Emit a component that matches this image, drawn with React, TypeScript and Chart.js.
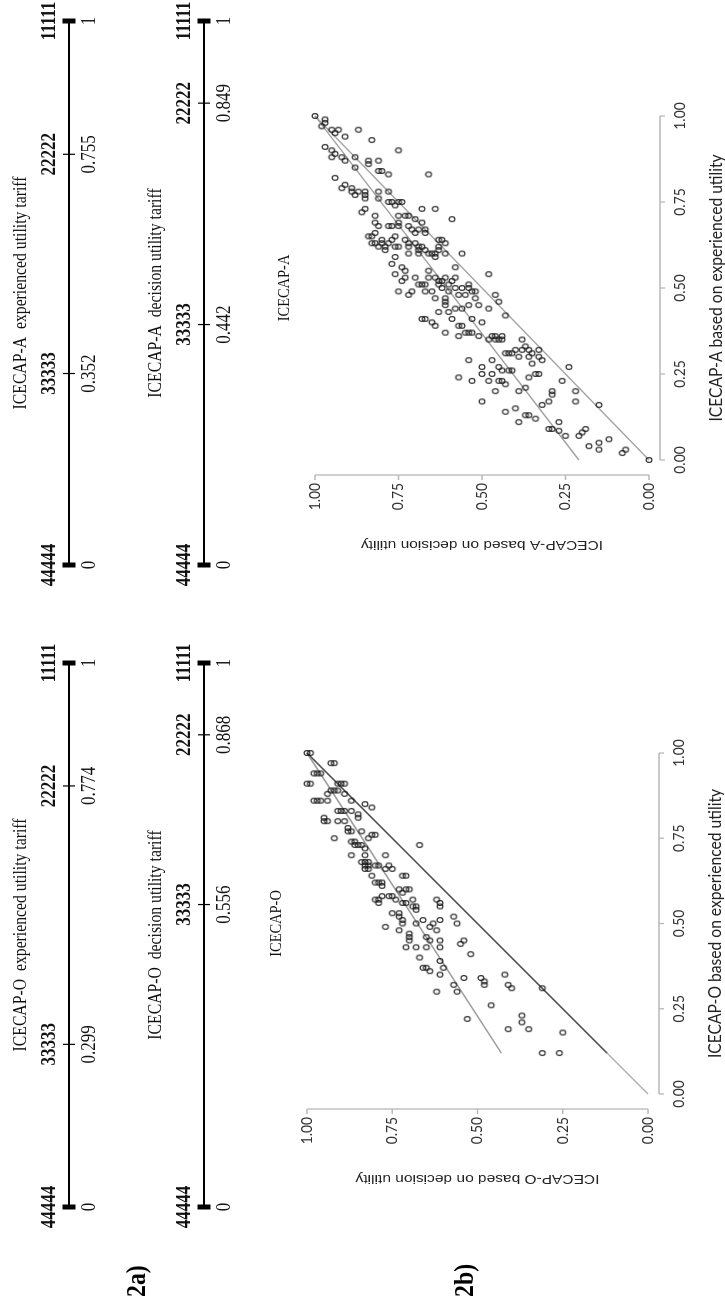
import React, { useEffect, useRef } from 'react';
import { Chart, registerables } from 'chart.js';

Chart.register(...registerables);

// The figure is laid out in its upright frame (1306 x 725) and turned a quarter
// turn counter-clockwise onto the 725 x 1306 page.
const FIG_W = 1306;
const FIG_H = 725;

// ---- 2a) tariff scales ----
const stateLabels = ['44444', '33333', '22222', '11111'];
const oExperiencedTariff = [0, 0.299, 0.774, 1];
const oDecisionTariff = [0, 0.556, 0.868, 1];
const aExperiencedTariff = [0, 0.352, 0.755, 1];
const aDecisionTariff = [0, 0.442, 0.849, 1];

// ---- 2b) scatter plots ----
const scatterTicks = [0, 0.25, 0.5, 0.75, 1];
const identityLine = [0, 1];
const aFitExperienced = [0, 1];
const aFitDecision = [0.21, 1.0];
const oFitExperienced = [0.12, 1];
const oFitDecision = [0.43, 1.0];
const oIdentityDarkRange = [0.12, 1];

const aExperienced = [
  1.00, 0.99, 0.98, 0.97, 0.96, 0.96, 0.95, 0.94, 0.96, 0.93,
  0.90, 0.91, 0.90, 0.88, 0.89, 0.88, 0.87, 0.88, 0.85, 0.87,
  0.86, 0.87, 0.84, 0.84, 0.83, 0.83, 0.82, 0.80, 0.79, 0.78,
  0.77, 0.79, 0.78, 0.78, 0.77, 0.76, 0.78, 0.76, 0.78, 0.75,
  0.75, 0.74, 0.75, 0.75, 0.73, 0.73, 0.72, 0.73, 0.71, 0.69,
  0.68, 0.71, 0.69, 0.71, 0.71, 0.70, 0.69, 0.70, 0.68, 0.68,
  0.68, 0.68, 0.67, 0.66, 0.67, 0.66, 0.67, 0.65, 0.65, 0.66,
  0.64, 0.63, 0.63, 0.62, 0.63, 0.62, 0.61, 0.63, 0.62, 0.62,
  0.64, 0.65, 0.64, 0.63, 0.62, 0.63, 0.61, 0.62, 0.60, 0.62,
  0.61, 0.60, 0.60, 0.59, 0.60, 0.61, 0.62, 0.64, 0.63, 0.60,
  0.64, 0.60, 0.57, 0.54, 0.59, 0.56, 0.53, 0.55, 0.52, 0.49,
  0.48, 0.49, 0.53, 0.51, 0.51, 0.51, 0.49, 0.55, 0.53, 0.49,
  0.53, 0.52, 0.51, 0.50, 0.47, 0.52, 0.53, 0.51, 0.49, 0.52,
  0.53, 0.56, 0.50, 0.48, 0.60, 0.50, 0.48, 0.50, 0.51, 0.49,
  0.49, 0.47, 0.45, 0.54, 0.48, 0.46, 0.47, 0.43, 0.46, 0.45,
  0.43, 0.41, 0.44, 0.44, 0.45, 0.41, 0.40, 0.44, 0.42, 0.41,
  0.41, 0.40, 0.39, 0.37, 0.39, 0.36, 0.39, 0.37, 0.37, 0.37,
  0.36, 0.35, 0.36, 0.35, 0.36, 0.35, 0.36, 0.35, 0.31, 0.31,
  0.31, 0.32, 0.30, 0.35, 0.32, 0.33, 0.32, 0.30, 0.31, 0.32,
  0.30, 0.29, 0.28, 0.25, 0.24, 0.25, 0.27, 0.23, 0.29, 0.27,
  0.29, 0.27, 0.26, 0.26, 0.26, 0.25, 0.23, 0.23, 0.22, 0.20,
  0.24, 0.23, 0.25, 0.23, 0.20, 0.21, 0.20, 0.19, 0.17, 0.20,
  0.17, 0.16, 0.16, 0.17, 0.14, 0.15, 0.11, 0.13, 0.13, 0.12,
  0.09, 0.09, 0.11, 0.085, 0.07, 0.07, 0.08, 0.09, 0.04, 0.05,
  0.03, 0.06, 0.03, 0.02, 0.00,
];
const aDecision = [
  1.00, 0.97, 0.97, 0.98, 0.95, 0.93, 0.94, 0.91, 0.87, 0.83,
  0.75, 0.97, 0.95, 0.95, 0.94, 0.92, 0.91, 0.88, 0.88, 0.84,
  0.84, 0.81, 0.81, 0.80, 0.78, 0.66, 0.94, 0.91, 0.92, 0.89,
  0.88, 0.89, 0.87, 0.85, 0.85, 0.85, 0.81, 0.81, 0.78, 0.77,
  0.78, 0.76, 0.75, 0.74, 0.68, 0.64, 0.86, 0.85, 0.82, 0.82,
  0.81, 0.75, 0.75, 0.73, 0.72, 0.70, 0.68, 0.59, 0.78, 0.77,
  0.75, 0.72, 0.71, 0.70, 0.69, 0.67, 0.67, 0.84, 0.83, 0.82,
  0.80, 0.82, 0.80, 0.79, 0.83, 0.81, 0.79, 0.78, 0.76, 0.75,
  0.77, 0.76, 0.73, 0.72, 0.72, 0.70, 0.69, 0.69, 0.69, 0.68,
  0.67, 0.66, 0.65, 0.64, 0.64, 0.63, 0.63, 0.62, 0.61, 0.61,
  0.63, 0.72, 0.77, 0.76, 0.76, 0.74, 0.73, 0.73, 0.74, 0.75,
  0.72, 0.71, 0.70, 0.69, 0.68, 0.67, 0.67, 0.66, 0.66, 0.65,
  0.64, 0.63, 0.63, 0.62, 0.61, 0.62, 0.61, 0.60, 0.60, 0.59,
  0.58, 0.58, 0.58, 0.57, 0.56, 0.56, 0.55, 0.54, 0.54, 0.53,
  0.52, 0.52, 0.51, 0.48, 0.46, 0.45, 0.64, 0.63, 0.61, 0.61,
  0.60, 0.59, 0.58, 0.56, 0.54, 0.53, 0.50, 0.48, 0.43, 0.68,
  0.67, 0.65, 0.64, 0.61, 0.57, 0.57, 0.56, 0.55, 0.54, 0.53,
  0.51, 0.48, 0.47, 0.46, 0.46, 0.45, 0.44, 0.44, 0.43, 0.42,
  0.41, 0.40, 0.39, 0.38, 0.38, 0.37, 0.36, 0.36, 0.35, 0.33,
  0.33, 0.32, 0.35, 0.34, 0.36, 0.33, 0.24, 0.26, 0.54, 0.50,
  0.47, 0.45, 0.44, 0.42, 0.41, 0.47, 0.45, 0.44, 0.43, 0.46,
  0.57, 0.53, 0.50, 0.48, 0.39, 0.37, 0.29, 0.29, 0.30, 0.22,
  0.22, 0.15, 0.32, 0.50, 0.43, 0.40, 0.39, 0.37, 0.36, 0.34,
  0.30, 0.29, 0.27, 0.27, 0.25, 0.21, 0.20, 0.19, 0.18, 0.15,
  0.15, 0.12, 0.07, 0.08, 0.00,
];

const oExperienced = [
  1.00, 1.00, 0.97, 0.97, 0.94, 0.94, 0.94, 0.91, 0.91, 0.91,
  0.91, 0.91, 0.89, 0.89, 0.88, 0.89, 0.88, 0.86, 0.86, 0.86,
  0.86, 0.86, 0.85, 0.84, 0.83, 0.83, 0.83, 0.83, 0.82, 0.81,
  0.81, 0.80, 0.80, 0.80, 0.80, 0.78, 0.77, 0.77, 0.77, 0.75,
  0.75, 0.76, 0.76, 0.74, 0.73, 0.73, 0.73, 0.74, 0.73, 0.72,
  0.70, 0.70, 0.68, 0.68, 0.67, 0.67, 0.68, 0.67, 0.67, 0.70,
  0.66, 0.66, 0.66, 0.67, 0.66, 0.64, 0.62, 0.62, 0.62, 0.56,
  0.61, 0.64, 0.64, 0.60, 0.59, 0.60, 0.60, 0.57, 0.57, 0.58,
  0.58, 0.58, 0.57, 0.56, 0.56, 0.57, 0.55, 0.54, 0.55, 0.57,
  0.56, 0.55, 0.53, 0.53, 0.52, 0.51, 0.50, 0.50, 0.51, 0.48,
  0.49, 0.49, 0.50, 0.48, 0.51, 0.52, 0.50, 0.47, 0.46, 0.43,
  0.43, 0.45, 0.46, 0.43, 0.45, 0.45, 0.43, 0.44, 0.45, 0.41,
  0.40, 0.37, 0.37, 0.36, 0.35, 0.39, 0.37, 0.34, 0.34, 0.33,
  0.32, 0.35, 0.32, 0.31, 0.30, 0.32, 0.30, 0.26, 0.23, 0.21,
  0.19, 0.19, 0.22, 0.31, 0.18, 0.12, 0.12,
];
const oDecision = [
  1.00, 0.99, 0.93, 0.92, 0.98, 0.97, 0.96, 1.00, 0.99, 0.91,
  0.90, 0.89, 0.92, 0.93, 0.94, 0.91, 0.89, 0.87, 0.94, 0.98,
  0.97, 0.96, 0.83, 0.81, 0.91, 0.90, 0.89, 0.87, 0.85, 0.85,
  0.95, 0.95, 0.94, 0.91, 0.89, 0.88, 0.88, 0.87, 0.84, 0.92,
  0.82, 0.81, 0.80, 0.87, 0.86, 0.85, 0.84, 0.86, 0.67, 0.83,
  0.83, 0.87, 0.84, 0.83, 0.83, 0.82, 0.82, 0.80, 0.79, 0.77,
  0.83, 0.82, 0.77, 0.76, 0.75, 0.81, 0.80, 0.79, 0.78, 0.79,
  0.78, 0.72, 0.71, 0.73, 0.72, 0.71, 0.70, 0.80, 0.79, 0.78,
  0.76, 0.75, 0.74, 0.72, 0.71, 0.69, 0.68, 0.68, 0.69, 0.62,
  0.61, 0.61, 0.75, 0.73, 0.73, 0.72, 0.72, 0.68, 0.66, 0.73,
  0.77, 0.64, 0.63, 0.62, 0.61, 0.57, 0.56, 0.70, 0.70, 0.71,
  0.68, 0.70, 0.65, 0.65, 0.64, 0.61, 0.61, 0.55, 0.54, 0.52,
  0.67, 0.66, 0.65, 0.64, 0.61, 0.61, 0.60, 0.54, 0.49, 0.48,
  0.48, 0.42, 0.41, 0.40, 0.62, 0.57, 0.56, 0.46, 0.37, 0.37,
  0.35, 0.41, 0.53, 0.31, 0.25, 0.31, 0.26,
];

const SERIF = '"Liberation Serif", "Times New Roman", serif';
const SANS = '"Liberation Sans", Arial, sans-serif';
const CAL = 'Lato, "Open Sans", sans-serif';
const SQUISH = 0.85; // the source figure is narrower along its reading direction

const fmtTariff = (v: number) => (v === 0 || v === 1 ? String(v) : v.toFixed(3));

function squishText(ctx: CanvasRenderingContext2D, text: string, x: number, y: number, font: string, sx: number) {
  ctx.save();
  ctx.translate(x, y);
  ctx.scale(sx, 1);
  ctx.font = font;
  ctx.fillText(text, 0, 0);
  ctx.restore();
}

function makeRing(): HTMLCanvasElement {
  const c = document.createElement('canvas');
  c.width = 10;
  c.height = 10;
  const g = c.getContext('2d');
  if (g) {
    g.strokeStyle = 'rgba(25,25,25,0.9)';
    g.lineWidth = 1.2;
    g.beginPath();
    g.ellipse(5, 5, 2.4, 2.9, 0, 0, Math.PI * 2);
    g.stroke();
  }
  return c;
}

type TariffProps = { x0: number; length: number; lineY: number; values: number[]; title: string };

function TariffScale({ x0, length, lineY, values, title }: TariffProps) {
  const ref = useRef<HTMLCanvasElement | null>(null);
  const padL = 60;
  const padR = 60;
  const W = length + padL + padR;
  const H = 112;
  const lineInCanvas = 70;
  useEffect(() => {
    const canvas = ref.current;
    if (!canvas) return;
    const textPlugin = {
      id: 'tariffText',
      afterDatasetsDraw(chart: any) {
        const { ctx, scales } = chart;
        const xs = scales.x;
        const y0 = scales.y.getPixelForValue(0);
        ctx.save();
        ctx.fillStyle = '#111';
        ctx.textAlign = 'center';
        ctx.textBaseline = 'middle';
        squishText(ctx, title, xs.getPixelForValue(0.5), y0 - 48, `18.5px ${SERIF}`, SQUISH);
        values.forEach((v, i) => {
          const px = xs.getPixelForValue(v);
          squishText(ctx, stateLabels[i], px, y0 - 19, `bold 20px ${SERIF}`, SQUISH);
          squishText(ctx, fmtTariff(v), px, y0 + 21, `20px ${SERIF}`, SQUISH);
        });
        ctx.restore();
      },
    };
    const ends = [values[0], values[values.length - 1]];
    const inner = values.slice(1, -1);
    const chart = new Chart(canvas, {
      type: 'scatter',
      data: {
        datasets: [
          {
            data: ends.map((v) => ({ x: v, y: 0 })),
            pointStyle: 'line',
            pointRotation: 90,
            pointRadius: 6.5,
            pointBorderWidth: 5,
            pointBorderColor: '#000',
            clip: false,
          } as any,
          {
            data: inner.map((v) => ({ x: v, y: 0 })),
            pointStyle: 'line',
            pointRotation: 90,
            pointRadius: 6,
            pointBorderWidth: 1.2,
            pointBorderColor: '#000',
            clip: false,
          } as any,
          {
            type: 'line',
            data: ends.map((v) => ({ x: v, y: 0 })),
            borderColor: '#000',
            borderWidth: 2,
            pointRadius: 0,
            clip: false,
          } as any,
        ],
      },
      options: {
        responsive: false,
        animation: false,
        events: [],
        layout: { padding: { left: padL, right: padR, top: lineInCanvas - 30, bottom: H - lineInCanvas - 30 } },
        scales: {
          x: { type: 'linear', min: 0, max: 1, display: false },
          y: { type: 'linear', min: -1, max: 1, display: false },
        },
        plugins: { legend: { display: false }, tooltip: { enabled: false } },
      },
      plugins: [textPlugin],
    });
    return () => chart.destroy();
  }, []);
  return (
    <canvas
      ref={ref}
      width={W}
      height={H}
      style={{ position: 'absolute', left: x0 - padL, top: lineY - lineInCanvas, width: W, height: H }}
    />
  );
}

type ScatterProps = {
  areaLeft: number;
  areaRight: number;
  areaTop: number;
  areaBottom: number;
  xs: number[];
  ys: number[];
  fitX: number[];
  fitY: number[];
  identityColor: string;
  darkRange?: number[];
  fitColor: string;
  title: string;
  xTitle: string;
  yTitle: string;
};

function ScatterPanel(p: ScatterProps) {
  const ref = useRef<HTMLCanvasElement | null>(null);
  const padL = 125;
  const padR = 40;
  const padT = 60;
  const W = p.areaRight - p.areaLeft + padL + padR;
  const top = p.areaTop - padT;
  const H = FIG_H - top;
  const padB = H - padT - (p.areaBottom - p.areaTop);
  useEffect(() => {
    const canvas = ref.current;
    if (!canvas) return;
    const axesPlugin = {
      id: 'rAxes',
      beforeDatasetsDraw(chart: any) {
        const { ctx, scales } = chart;
        const x = scales.x;
        const y = scales.y;
        const x0 = x.getPixelForValue(0);
        const x1 = x.getPixelForValue(1);
        const y0 = y.getPixelForValue(0);
        const y1 = y.getPixelForValue(1);
        const axY = y0 + 11;
        const axX = x0 - 15;
        ctx.save();
        ctx.strokeStyle = '#b8b8b8';
        ctx.lineWidth = 1.3;
        ctx.beginPath();
        ctx.moveTo(x0, axY);
        ctx.lineTo(x1, axY);
        scatterTicks.forEach((t) => {
          const px = x.getPixelForValue(t);
          ctx.moveTo(px, axY);
          ctx.lineTo(px, axY + 5);
        });
        ctx.moveTo(axX, y0);
        ctx.lineTo(axX, y1);
        scatterTicks.forEach((t) => {
          const py = y.getPixelForValue(t);
          ctx.moveTo(axX, py);
          ctx.lineTo(axX - 5, py);
        });
        ctx.stroke();
        ctx.fillStyle = '#333';
        ctx.textAlign = 'center';
        ctx.textBaseline = 'middle';
        scatterTicks.forEach((t) => squishText(ctx, t.toFixed(2), x.getPixelForValue(t), axY + 20, `15px ${CAL}`, 0.92));
        ctx.textAlign = 'right';
        scatterTicks.forEach((t) => squishText(ctx, t.toFixed(2), axX - 8, y.getPixelForValue(t), `15px ${CAL}`, 0.92));
        ctx.textAlign = 'center';
        ctx.fillStyle = '#222';
        squishText(ctx, p.xTitle, (x0 + x1) / 2, y0 + 68, `17px ${CAL}`, 0.92);
        ctx.save();
        ctx.translate(x0 - 85, (y0 + y1) / 2);
        ctx.scale(SQUISH, 1);
        ctx.rotate(-Math.PI / 2);
        ctx.font = `15.5px ${SANS}`;
        ctx.fillText(p.yTitle, 0, 0);
        ctx.restore();
        ctx.fillStyle = '#111';
        squishText(ctx, p.title, x.getPixelForValue(0.5), y1 - 30, `17px ${SERIF}`, SQUISH);
        ctx.restore();
      },
    };
    const ring = makeRing();
    const lineSets: any[] = [
      {
        type: 'line',
        data: identityLine.map((v) => ({ x: v, y: v })),
        borderColor: p.identityColor,
        borderWidth: 1.4,
        pointRadius: 0,
        clip: false,
      },
      {
        type: 'line',
        data: p.fitX.map((v, i) => ({ x: v, y: p.fitY[i] })),
        borderColor: p.fitColor,
        borderWidth: 1.5,
        pointRadius: 0,
        clip: false,
      },
    ];
    if (p.darkRange) {
      lineSets.unshift({
        type: 'line',
        data: p.darkRange.map((v) => ({ x: v, y: v })),
        borderColor: '#505050',
        borderWidth: 1.4,
        pointRadius: 0,
        clip: false,
      });
    }
    const chart = new Chart(canvas, {
      type: 'scatter',
      data: {
        datasets: [
          {
            data: p.xs.map((e, i) => ({ x: e, y: p.ys[i] })),
            pointStyle: ring,
            pointRadius: 3,
            clip: false,
          } as any,
          ...lineSets,
        ],
      },
      options: {
        responsive: false,
        animation: false,
        events: [],
        layout: { padding: { left: padL, right: padR, top: padT, bottom: padB } },
        scales: {
          x: { type: 'linear', min: 0, max: 1, display: false },
          y: { type: 'linear', min: 0, max: 1, display: false },
        },
        plugins: { legend: { display: false }, tooltip: { enabled: false } },
      },
      plugins: [axesPlugin],
    });
    return () => chart.destroy();
  }, []);
  return (
    <canvas
      ref={ref}
      width={W}
      height={H}
      style={{ position: 'absolute', left: p.areaLeft - padL, top, width: W, height: H }}
    />
  );
}

const panelLabel: React.CSSProperties = {
  position: 'absolute',
  left: 9,
  font: `bold 28px ${SERIF}`,
  color: '#000',
  lineHeight: '30px',
  whiteSpace: 'nowrap',
  transformOrigin: '0 50%',
  transform: `scaleX(${SQUISH})`,
};

export default function App() {
  return (
    <div style={{ position: 'fixed', left: 0, top: 0, width: 725, height: 1306, overflow: 'hidden', background: '#fff' }}>
      <div
        style={{
          position: 'absolute',
          left: 0,
          top: 0,
          width: FIG_W,
          height: FIG_H,
          background: '#fff',
          transformOrigin: '0 0',
          transform: `translate(0px, ${FIG_W}px) rotate(-90deg)`,
        }}
      >
        <TariffScale x0={99} length={544} lineY={69} values={oExperiencedTariff} title="ICECAP-O  experienced utility tariff" />
        <TariffScale x0={741} length={544} lineY={69} values={aExperiencedTariff} title="ICECAP-A  experienced utility tariff" />
        <TariffScale x0={99} length={544} lineY={204} values={oDecisionTariff} title="ICECAP-O  decision utility tariff" />
        <TariffScale x0={741} length={544} lineY={204} values={aDecisionTariff} title="ICECAP-A  decision utility tariff" />
        <div style={{ ...panelLabel, top: 121 }}>2a)</div>
        <div style={{ ...panelLabel, top: 449 }}>2b)</div>
        <ScatterPanel
          areaLeft={212}
          areaRight={553}
          areaTop={307}
          areaBottom={648}
          xs={oExperienced}
          ys={oDecision}
          fitX={oFitExperienced}
          fitY={oFitDecision}
          identityColor="#b0b0b0"
          darkRange={oIdentityDarkRange}
          fitColor="#9e9e9e"
          title="ICECAP-O"
          xTitle="ICECAP-O based on experienced utility"
          yTitle="ICECAP-O based on decision utility"
        />
        <ScatterPanel
          areaLeft={846}
          areaRight={1190}
          areaTop={315}
          areaBottom={649}
          xs={aExperienced}
          ys={aDecision}
          fitX={aFitExperienced}
          fitY={aFitDecision}
          identityColor="#a3a3a3"
          fitColor="#a3a3a3"
          title="ICECAP-A"
          xTitle="ICECAP-A based on experienced utility"
          yTitle="ICECAP-A based on decision utility"
        />
      </div>
    </div>
  );
}
